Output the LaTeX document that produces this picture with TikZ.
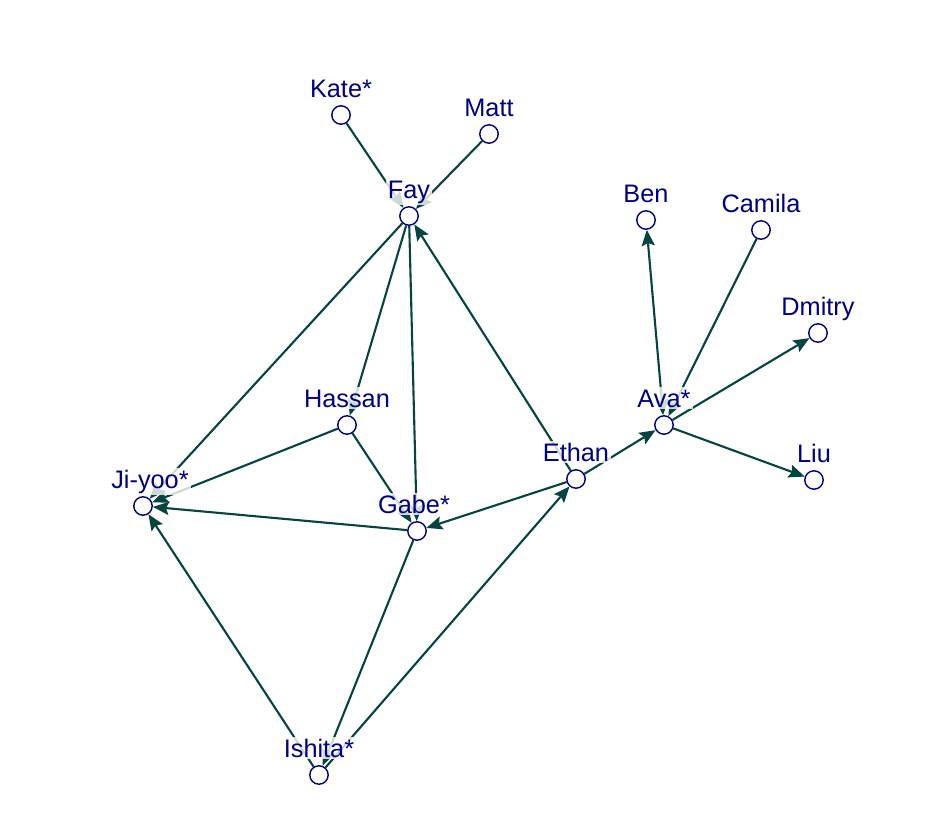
\documentclass[tikz,border=0pt]{standalone}
\usepackage{fontspec}
\setmainfont{Liberation Sans}
\usetikzlibrary{arrows.meta,backgrounds}
\definecolor{nodeblue}{RGB}{0,0,128}
\definecolor{edgegreen}{RGB}{6,68,62}
\tikzset{
  persona/.style={circle, draw=nodeblue, fill=white, line width=1pt, minimum size=0.46cm, inner sep=0pt},
  nombre/.style={text=nodeblue, fill=white, fill opacity=0.8, text opacity=1, inner sep=1.5pt, anchor=base, font=\fontsize{18}{21}\selectfont},
  enlace/.style={edgegreen, line width=1.5pt, -{Stealth[length=0.4cm, width=0.33cm, inset=0.07cm]}},
  doble/.style={enlace, {Stealth[length=0.4cm, width=0.33cm, inset=0.07cm]}-{Stealth[length=0.4cm, width=0.33cm, inset=0.07cm]}}
}
\begin{document}
\begin{tikzpicture}[x=0.025cm, y=-0.025cm]
    \useasboundingbox (0,0) rectangle (950,815);

    % Personas
    \node[persona] (kate)   at (341,115) {};
    \node[persona] (matt)   at (489,134) {};
    \node[persona] (fay)    at (409,216) {};
    \node[persona] (ben)    at (646,220) {};
    \node[persona] (camila) at (761,230) {};
    \node[persona] (dmitry) at (818,333) {};
    \node[persona] (hassan) at (347,425) {};
    \node[persona] (ava)    at (664,425) {};
    \node[persona] (ethan)  at (576,479) {};
    \node[persona] (liu)    at (814,480) {};
    \node[persona] (jiyoo)  at (143,506) {};
    \node[persona] (gabe)   at (417,531) {};
    \node[persona] (ishita) at (319,775) {};

    % Enlaces
    \begin{scope}[on background layer]
        \draw[enlace] (kate) -- (fay);
        \draw[enlace] (matt) -- (fay);
        \draw[enlace] (ethan) -- (fay);
        \draw[enlace] (fay) -- (jiyoo);
        \draw[enlace] (fay) -- (hassan);
        \draw[enlace] (fay) -- (gabe);
        \draw[enlace] (hassan) -- (gabe);
        \draw[enlace] (hassan) -- (jiyoo);
        \draw[enlace] (gabe) -- (jiyoo);
        \draw[enlace] (ishita) -- (jiyoo);
        \draw[enlace] (ethan) -- (gabe);
        \draw[enlace] (gabe) -- (ishita);
        \draw[enlace] (ishita) -- (ethan);
        \draw[enlace] (ethan) -- (ava);
        \draw[doble] (ava) -- (ben);
        \draw[enlace] (camila) -- (ava);
        \draw[enlace] (ava) -- (dmitry);
        \draw[enlace] (ava) -- (liu);
    \end{scope}

    % Nombres
    \node[nombre] (kateN)   at (341,97)  {Kate*};
    \node[nombre] (mattN)   at (489,116) {Matt};
    \node[nombre] (fayN)    at (409,198) {Fay};
    \node[nombre] (benN)    at (646,202) {Ben};
    \node[nombre] (camilaN) at (761,212) {Camila};
    \node[nombre] (dmitryN) at (818,315) {Dmitry};
    \node[nombre] (hassanN) at (347,407) {Hassan};
    \node[nombre] (avaN)    at (664,407) {Ava*};
    \node[nombre] (ethanN)  at (576,461) {Ethan};
    \node[nombre] (liuN)    at (814,462) {Liu};
    \node[nombre] (jiyooN)  at (150,488) {Ji-yoo*};
    \node[nombre] (gabeN)   at (414,513) {Gabe*};
    \node[nombre] (ishitaN) at (319,757) {Ishita*};
\end{tikzpicture}
\end{document}
